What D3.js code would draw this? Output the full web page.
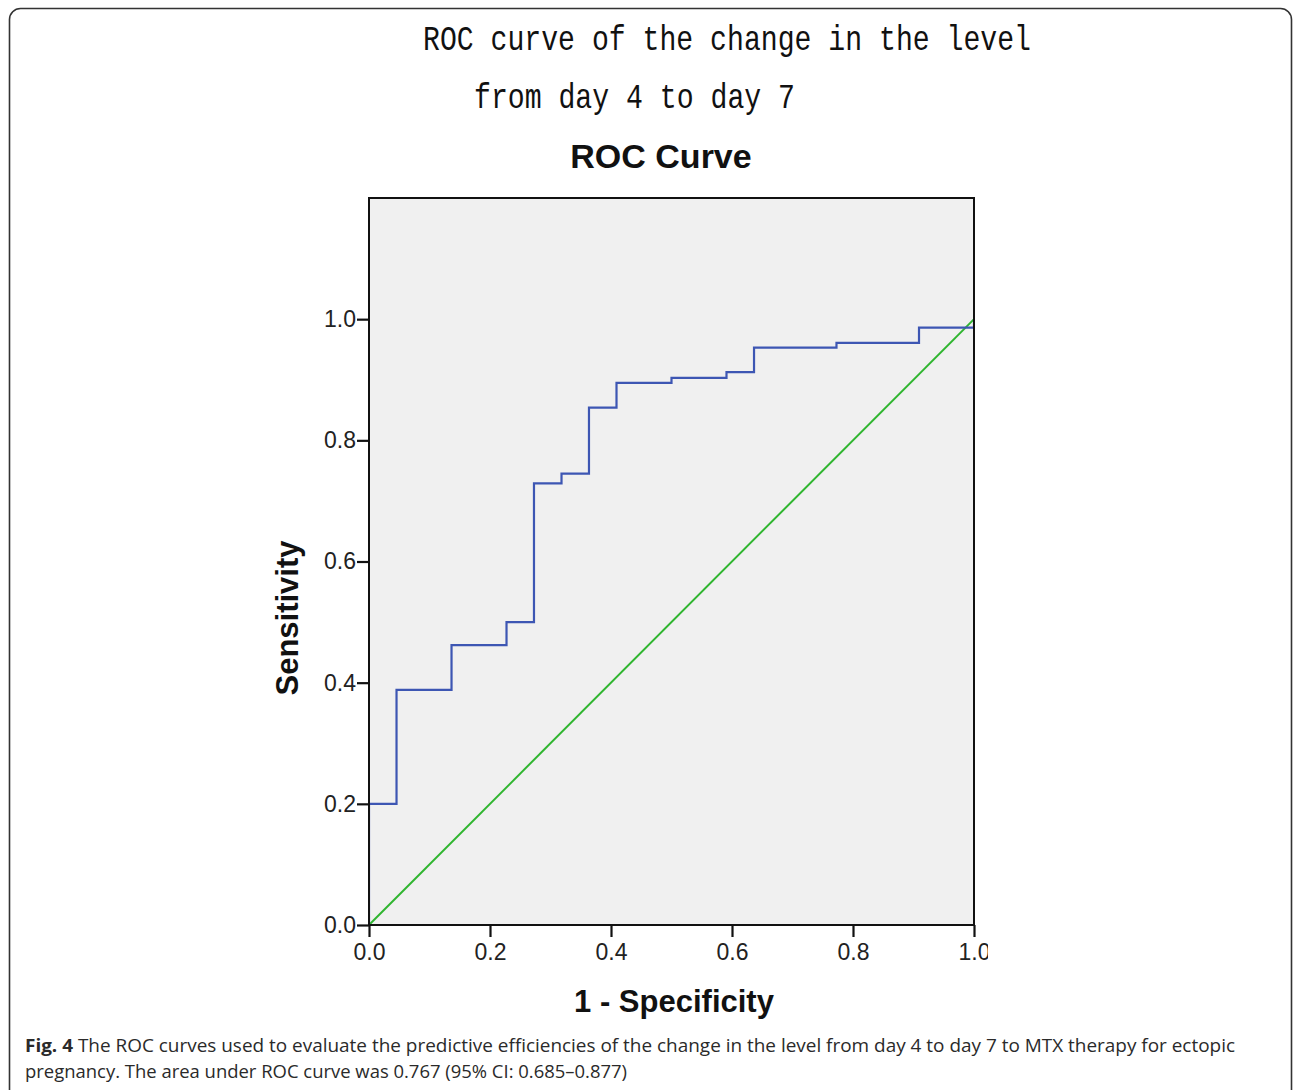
<!DOCTYPE html>
<html>
<head>
<meta charset="utf-8">
<script src="https://cdn.jsdelivr.net/npm/d3@7"></script>
<style>
  html, body { margin: 0; padding: 0; background: #fff; }
  svg { display: block; }
</style>
</head>
<body>
<svg id="chart" width="1293" height="1090"></svg>
<script>
// ---- data ----
const rocFPR = [0, 0, 0.0455, 0.0455, 0.1364, 0.1364, 0.2273, 0.2273, 0.2727, 0.2727, 0.3182, 0.3182, 0.3636, 0.3636, 0.4091, 0.4091, 0.5, 0.5, 0.5909, 0.5909, 0.6364, 0.6364, 0.7727, 0.7727, 0.9091, 0.9091, 1.0, 1.0];
const rocTPR = [0, 0.2, 0.2, 0.388, 0.388, 0.462, 0.462, 0.5, 0.5, 0.729, 0.729, 0.745, 0.745, 0.854, 0.854, 0.895, 0.895, 0.903, 0.903, 0.9125, 0.9125, 0.953, 0.953, 0.961, 0.961, 0.986, 0.986, 1.0];
const refX = [0, 1];
const refY = [0, 1];
const xTicks = [0, 0.2, 0.4, 0.6, 0.8, 1.0];
const yTicks = [0, 0.2, 0.4, 0.6, 0.8, 1.0];
const titleLines = ["ROC curve of the change in the level", "from day 4 to day 7"];
const chartTitle = "ROC Curve";
const xLabel = "1 - Specificity";
const yLabel = "Sensitivity";

const svg = d3.select("#chart");

// frame
svg.append("rect")
  .attr("x", 9.5).attr("y", 8.5).attr("width", 1282).attr("height", 1095)
  .attr("rx", 11).attr("ry", 11)
  .attr("fill", "none").attr("stroke", "#333").attr("stroke-width", 1.6);

// top monospace titles
svg.append("text").attr("x", 423).attr("y", 50)
  .attr("font-family", "Liberation Mono, monospace").attr("font-size", 35)
  .attr("textLength", 608).attr("lengthAdjust", "spacingAndGlyphs")
  .attr("fill", "#111").text(titleLines[0]);
svg.append("text").attr("x", 474).attr("y", 108)
  .attr("font-family", "Liberation Mono, monospace").attr("font-size", 35)
  .attr("textLength", 321).attr("lengthAdjust", "spacingAndGlyphs")
  .attr("fill", "#111").text(titleLines[1]);

// plot geometry
const x0 = 369, x1 = 974, yTop = 198, yBottom = 925;
const x = d3.scaleLinear().domain([0, 1]).range([x0, x1]);
const y = d3.scaleLinear().domain([0, 1.2]).range([yBottom, yTop]);

svg.append("text").attr("x", 661).attr("y", 168)
  .attr("text-anchor", "middle")
  .attr("font-family", "Liberation Sans, Arial, sans-serif").attr("font-weight", "bold")
  .attr("font-size", 34).attr("fill", "#111").text(chartTitle);

svg.append("rect").attr("x", x0).attr("y", yTop)
  .attr("width", x1 - x0).attr("height", yBottom - yTop)
  .attr("fill", "#f0f0f0");

const defs = svg.append("defs");
defs.append("clipPath").attr("id", "plotclip")
  .append("rect").attr("x", x0).attr("y", yTop).attr("width", x1 - x0).attr("height", yBottom - yTop);
defs.append("clipPath").attr("id", "labelclip")
  .append("rect").attr("x", 0).attr("y", 0).attr("width", 988).attr("height", 1090);

const g = svg.append("g").attr("clip-path", "url(#plotclip)");

// reference line
g.append("path")
  .datum(refX.map((v, i) => [v, refY[i]]))
  .attr("d", d3.line().x(d => x(d[0])).y(d => y(d[1])))
  .attr("fill", "none").attr("stroke", "#2fb52f").attr("stroke-width", 2);

// ROC curve
g.append("path")
  .datum(rocFPR.map((v, i) => [v, rocTPR[i]]))
  .attr("d", d3.line().x(d => x(d[0])).y(d => y(d[1])))
  .attr("fill", "none").attr("stroke", "#3d56b3").attr("stroke-width", 2.2);

// plot border
svg.append("rect").attr("x", x0).attr("y", yTop)
  .attr("width", x1 - x0).attr("height", yBottom - yTop)
  .attr("fill", "none").attr("stroke", "#111").attr("stroke-width", 2);

// axes
const xAxis = d3.axisBottom(x).tickValues(xTicks).tickFormat(d3.format(".1f"))
  .tickSize(12).tickPadding(7);
const xg = svg.append("g").attr("transform", `translate(0,${yBottom})`).call(xAxis)
  .attr("clip-path", "url(#labelclip)")
  .attr("font-family", "Liberation Sans, Arial, sans-serif").attr("font-size", 23);
xg.select(".domain").remove();
xg.selectAll(".tick line").attr("stroke", "#111").attr("stroke-width", 2.2);
xg.selectAll(".tick text").attr("fill", "#222");

const yAxis = d3.axisLeft(y).tickValues(yTicks).tickFormat(d3.format(".1f"))
  .tickSize(12).tickPadding(1);
const yg = svg.append("g").attr("transform", `translate(${x0},0)`).call(yAxis)
  .attr("font-family", "Liberation Sans, Arial, sans-serif").attr("font-size", 23);
yg.select(".domain").remove();
yg.selectAll(".tick line").attr("stroke", "#111").attr("stroke-width", 2.2);
yg.selectAll(".tick text").attr("fill", "#222");

// axis labels
svg.append("text").attr("x", 674).attr("y", 1012)
  .attr("text-anchor", "middle")
  .attr("font-family", "Liberation Sans, Arial, sans-serif").attr("font-weight", "bold")
  .attr("font-size", 31).attr("fill", "#111").text(xLabel);
svg.append("text")
  .attr("transform", "translate(298,618) rotate(-90)")
  .attr("text-anchor", "middle")
  .attr("font-family", "Liberation Sans, Arial, sans-serif").attr("font-weight", "bold")
  .attr("font-size", 31).attr("fill", "#111").text(yLabel);

// caption
const cap1 = svg.append("text").attr("x", 25).attr("y", 1052)
  .attr("font-family", "Open Sans, sans-serif").attr("font-size", 18.6).attr("fill", "#2a2a2a")
  .attr("textLength", 1210).attr("lengthAdjust", "spacingAndGlyphs");
cap1.append("tspan").attr("font-weight", "bold").text("Fig. 4");
cap1.append("tspan").text(" The ROC curves used to evaluate the predictive efficiencies of the change in the level from day 4 to day 7 to MTX therapy for ectopic");
svg.append("text").attr("x", 25).attr("y", 1078)
  .attr("font-family", "Open Sans, sans-serif").attr("font-size", 18.6).attr("fill", "#2a2a2a")
  .attr("textLength", 602).attr("lengthAdjust", "spacingAndGlyphs")
  .text("pregnancy. The area under ROC curve was 0.767 (95% CI: 0.685–0.877)");
</script>
</body>
</html>
